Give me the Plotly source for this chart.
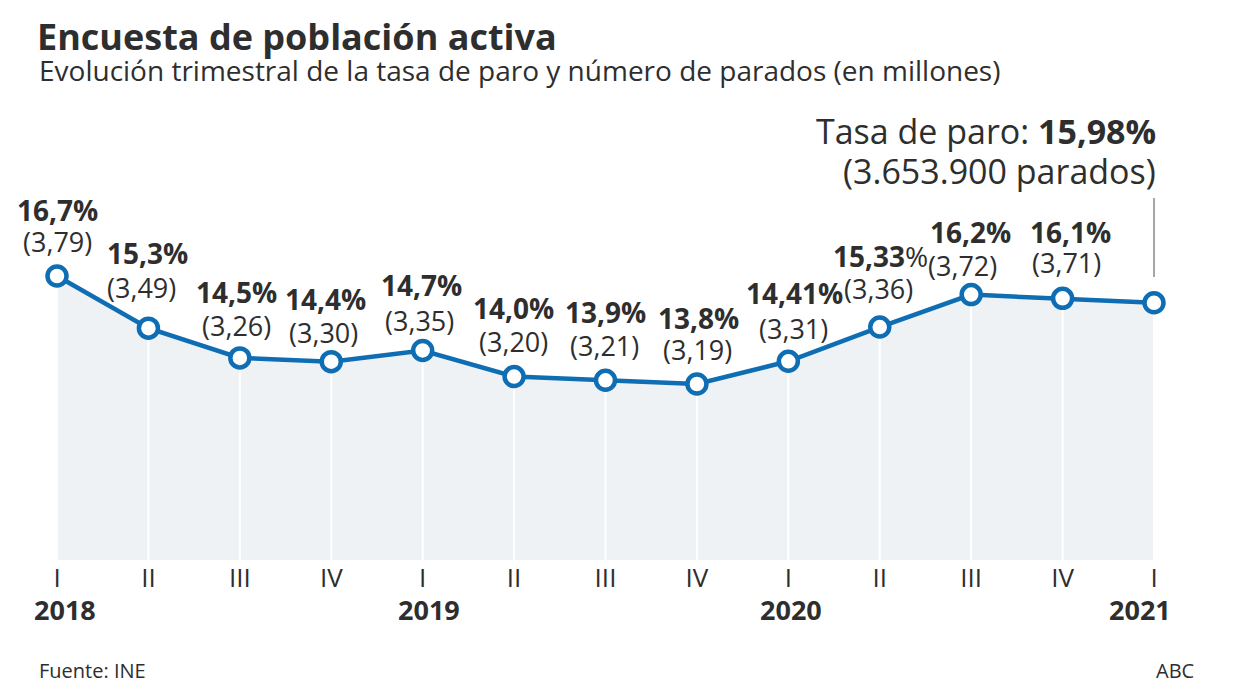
import plotly.graph_objects as go

# ---- data ----
quarters = ["I", "II", "III", "IV", "I", "II", "III", "IV", "I", "II", "III", "IV", "I"]
years = ["2018", "2019", "2020", "2021"]
year_index = [0, 4, 8, 12]
rates = [16.7, 15.3, 14.5, 14.4, 14.7, 14.0, 13.9, 13.8, 14.41, 15.33, 16.2, 16.1, 15.98]
rate_labels = ["16,7%", "15,3%", "14,5%", "14,4%", "14,7%", "14,0%", "13,9%", "13,8%",
               "14,41%", "15,33%", "16,2%", "16,1%"]
parados = ["(3,79)", "(3,49)", "(3,26)", "(3,30)", "(3,35)", "(3,20)", "(3,21)", "(3,19)",
           "(3,31)", "(3,36)", "(3,72)", "(3,71)"]
last_rate_text = "15,98%"
last_parados_text = "(3.653.900 parados)"

# ---- style ----
BLUE = "#0f6db3"
FILL = "#eef2f5"
TEXT = "#2e2e2e"
FONT = "Open Sans"
Y_RANGE = [9.074, 21.426]
X_RANGE = [-0.186, 12.175]
OFF = 8  # page body margin
W, H = 1240, 690
L, T = 40 - OFF, 100 - OFF
PW, PH = 1130, 460
R = W - L - PW
B = H - T - PH
# label offsets (pixels) per point: (dx_bold, dy_bold, dx_paren, dy_paren)
offsets = [(0, 66, 0, 35), (-1, 75, -7, 41), (-3, 66, -3, 32), (-6, 63, -8, 29),
           (-1, 65, -3, 30), (-1, 69, -1, 35), (0, 68, -1, 35), (2, 66, 1, 35),
           (6, 68, 5, 33), (1, 71, -1, 39), (-1, 63, -9, 29), (8, 66, 4, 36)]


def py(p):
    """screen pixel row -> paper y"""
    return (560 - p) / PH


def px(p):
    """screen pixel column -> paper x"""
    return (p - 40) / PW


x = list(range(len(rates)))

fig = go.Figure()
fig.add_trace(go.Scatter(x=x, y=rates, mode="lines", line=dict(width=0),
                         fill="tozeroy", fillcolor=FILL, hoverinfo="skip", showlegend=False))
gx, gy = [], []
for xi, yi in zip(x, rates):
    gx += [xi, xi, None]
    gy += [yi, Y_RANGE[0], None]
fig.add_trace(go.Scatter(x=gx, y=gy, mode="lines", line=dict(color="white", width=2),
                         hoverinfo="skip", showlegend=False))
fig.add_trace(go.Scatter(x=x, y=rates, mode="lines+markers",
                         line=dict(color=BLUE, width=4.5),
                         marker=dict(size=19, color="white", line=dict(color=BLUE, width=4.5)),
                         showlegend=False))

ann = []
for i, (lab, par) in enumerate(zip(rate_labels, parados)):
    dxb, dyb, dxp, dyp = offsets[i]
    btxt = "<b>15,33</b>%" if lab == "15,33%" else f"<b>{lab}</b>"
    ann.append(dict(x=x[i], y=rates[i], xref="x", yref="y", text=btxt, showarrow=False,
                    xshift=dxb, yshift=dyb, font=dict(family=FONT, size=28, color=TEXT)))
    ann.append(dict(x=x[i], y=rates[i], xref="x", yref="y", text=par, showarrow=False,
                    xshift=dxp, yshift=dyp, font=dict(family=FONT, size=27, color=TEXT)))

yshifts = {"2018": 8, "2019": 6, "2020": 3, "2021": -14}
for yi, yr in zip(year_index, years):
    ann.append(dict(x=yi, y=py(609), xref="x", yref="paper", text=f"<b>{yr}</b>",
                    showarrow=False, xshift=yshifts[yr], yanchor="middle",
                    font=dict(family=FONT, size=27, color=TEXT)))

ann.append(dict(x=x[-1], y=py(131), xref="x", yref="paper", xanchor="right",
                yanchor="middle", xshift=4, showarrow=False,
                text=f"Tasa de paro: <b>{last_rate_text}</b>",
                font=dict(family=FONT, size=34, color=TEXT)))
ann.append(dict(x=x[-1], y=py(171), xref="x", yref="paper", xanchor="right",
                yanchor="middle", xshift=4, showarrow=False, text=last_parados_text,
                font=dict(family=FONT, size=34, color=TEXT)))

ann.append(dict(x=px(37), y=py(70), xref="paper", yref="paper",
                xanchor="left", yanchor="middle", showarrow=False,
                text="Evolución trimestral de la tasa de paro y número de parados (en millones)",
                font=dict(family=FONT, size=28, color=TEXT)))
ann.append(dict(x=px(37), y=py(670), xref="paper", yref="paper",
                xanchor="left", yanchor="middle", showarrow=False, text="Fuente: INE",
                font=dict(family=FONT, size=20, color=TEXT)))
ann.append(dict(x=px(1196), y=py(670), xref="paper", yref="paper",
                xanchor="right", yanchor="middle", showarrow=False, text="ABC",
                font=dict(family=FONT, size=20, color=TEXT)))

fig.update_layout(
    width=W, height=H,
    margin=dict(l=L, r=R, t=T, b=B),
    paper_bgcolor="white", plot_bgcolor="white",
    title=dict(text="<b>Encuesta de población activa</b>", x=(37 - OFF) / W, xanchor="left",
               y=1 - (37 - OFF) / H, yanchor="middle",
               font=dict(family=FONT, size=36, color=TEXT)),
    annotations=ann,
    shapes=[dict(type="line", xref="x", yref="paper", x0=x[-1], x1=x[-1],
                 y0=py(277), y1=py(198),
                 line=dict(color="#8a8a8a", width=1.5))],
    xaxis=dict(range=X_RANGE, tickvals=x, ticktext=quarters, showgrid=False,
               zeroline=False, showline=False, ticks="",
               tickfont=dict(family=FONT, size=26, color=TEXT)),
    yaxis=dict(range=Y_RANGE, visible=False, showgrid=False, zeroline=False),
    hovermode=False,
)

fig.write_html("out.html")
